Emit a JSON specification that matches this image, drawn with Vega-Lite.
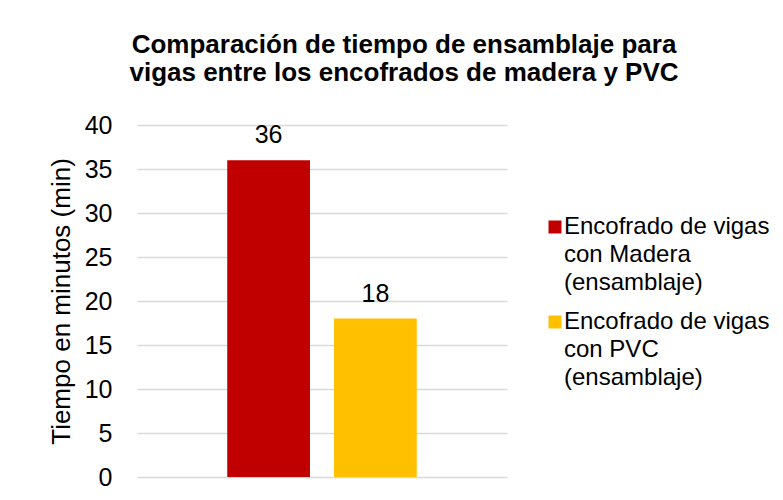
{
  "$schema": "https://vega.github.io/schema/vega-lite/v6.json",
  "autosize": "none",
  "width": 370,
  "height": 352,
  "padding": {"left": 137, "top": 125, "right": 276, "bottom": 23},
  "background": "white",
  "title": {
    "text": ["Comparación de tiempo de ensamblaje para", "vigas entre los encofrados de madera y PVC"],
    "font": "Liberation Sans",
    "fontSize": 26,
    "fontWeight": "bold",
    "color": "#000000",
    "lineHeight": 28,
    "anchor": "middle",
    "frame": "group",
    "dx": 82,
    "offset": 27
  },
  "data": {
    "values": [
      {"serie": "Encofrado de vigas con Madera (ensamblaje)", "tiempo": 36},
      {"serie": "Encofrado de vigas con PVC (ensamblaje)", "tiempo": 18}
    ]
  },
  "encoding": {
    "x": {
      "field": "serie",
      "type": "nominal",
      "sort": null,
      "axis": null,
      "scale": {"paddingInner": 0.225, "paddingOuter": 0.845}
    },
    "y": {
      "field": "tiempo",
      "type": "quantitative",
      "scale": {"domain": [0, 40], "nice": false},
      "axis": {
        "title": "Tiempo en minutos (min)",
        "values": [0, 5, 10, 15, 20, 25, 30, 35, 40],
        "domain": false,
        "ticks": false,
        "grid": true,
        "gridColor": "#D9D9D9",
        "gridWidth": 1.5,
        "labelFont": "Liberation Sans",
        "labelFontSize": 25,
        "labelColor": "#000000",
        "labelPadding": 25,
        "titleFont": "Liberation Sans",
        "titleFontSize": 26,
        "titleFontWeight": "normal",
        "titleColor": "#000000",
        "titlePadding": 10
      }
    }
  },
  "layer": [
    {
      "mark": {"type": "bar"},
      "encoding": {
        "color": {
          "field": "serie",
          "type": "nominal",
          "sort": null,
          "scale": {"range": ["#C00000", "#FFC000"]},
          "legend": {
            "title": null,
            "orient": "none",
            "legendX": 406,
            "legendY": 90,
            "padding": 0,
            "symbolType": "square",
            "symbolSize": 169,
            "symbolStrokeWidth": 0,
            "labelFont": "Liberation Sans",
            "labelFontSize": 24,
            "labelColor": "#000000",
            "labelOffset": -3,
            "labelLimit": 400,
            "labelBaseline": "middle",
            "rowPadding": 15,
            "labelExpr": "datum.label == 'Encofrado de vigas con Madera (ensamblaje)' ? ['Encofrado de vigas', 'con Madera', '(ensamblaje)'] : ['Encofrado de vigas', 'con PVC', '(ensamblaje)']"
          }
        }
      }
    },
    {
      "mark": {
        "type": "text",
        "baseline": "alphabetic",
        "dy": -17,
        "font": "Liberation Sans",
        "fontSize": 25,
        "color": "#000000"
      },
      "encoding": {
        "text": {"field": "tiempo", "type": "quantitative"}
      }
    }
  ],
  "config": {
    "view": {"stroke": null},
    "style": {"guide-label": {"lineHeight": 28}}
  }
}
